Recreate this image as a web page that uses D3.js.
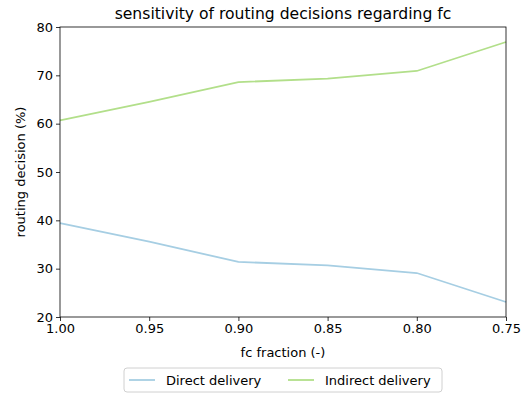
<!DOCTYPE html>
<meta charset="utf-8">
<script src="https://d3js.org/d3.v7.min.js"></script>
<style>
  body { margin: 0; background: white; }
  text { font-family: "DejaVu Sans", sans-serif; }
</style>
<div id="chart"></div>
<script>
const fractions = [1.00, 0.95, 0.90, 0.85, 0.80, 0.75];
const direct = [39.4, 35.6, 31.4, 30.7, 29.1, 23.1];
const indirect = [60.7, 64.5, 68.6, 69.3, 70.9, 76.9];
const seriesNames = ["Direct delivery", "Indirect delivery"];
const colors = ["#a6cee3", "#b2df8a"];
const yTicks = [20, 30, 40, 50, 60, 70, 80];

const width = 526, height = 394;
const margin = {left: 60, right: 20, top: 27, bottom: 77};

const svg = d3.select("#chart").append("svg")
    .attr("width", width)
    .attr("height", height);

const x = d3.scaleLinear().domain([1.00, 0.75]).range([margin.left, width - margin.right]);
const y = d3.scaleLinear().domain([20, 80]).range([height - margin.bottom, margin.top]);

// lines
const line = d3.line().x((d, i) => x(fractions[i])).y(d => y(d));
[direct, indirect].forEach((vals, i) => {
  svg.append("path")
    .datum(vals)
    .attr("d", line)
    .attr("fill", "none")
    .attr("stroke", colors[i])
    .attr("stroke-width", 1.8);
});

// axes
const xAxis = svg.append("g")
    .attr("transform", `translate(0,${height - margin.bottom})`)
    .call(d3.axisBottom(x).tickValues(fractions).tickFormat(d3.format(".2f")).tickSize(4).tickPadding(3));
const yAxis = svg.append("g")
    .attr("transform", `translate(${margin.left},0)`)
    .call(d3.axisLeft(y).tickValues(yTicks).tickSize(4).tickPadding(3));
[xAxis, yAxis].forEach(a => {
  a.select(".domain").remove();
  a.selectAll("text").style("font-size", "13px").attr("fill", "#000");
  a.selectAll("line").attr("stroke", "#000").attr("stroke-width", 0.8);
});

// frame
svg.append("rect")
  .attr("x", margin.left).attr("y", margin.top)
  .attr("width", width - margin.left - margin.right)
  .attr("height", height - margin.top - margin.bottom)
  .attr("fill", "none").attr("stroke", "#000").attr("stroke-width", 0.8);

// title & labels
svg.append("text")
  .attr("x", (margin.left + width - margin.right) / 2).attr("y", 19)
  .attr("text-anchor", "middle").style("font-size", "15.6px")
  .text("sensitivity of routing decisions regarding fc");
svg.append("text")
  .attr("x", (margin.left + width - margin.right) / 2).attr("y", 357)
  .attr("text-anchor", "middle").style("font-size", "13px")
  .text("fc fraction (-)");
svg.append("text")
  .attr("transform", `translate(25,${(margin.top + height - margin.bottom) / 2}) rotate(-90)`)
  .attr("text-anchor", "middle").style("font-size", "13px")
  .text("routing decision (%)");

// legend
const lg = svg.append("g");
lg.append("rect")
  .attr("x", 124).attr("y", 368).attr("width", 318).attr("height", 24)
  .attr("rx", 3).attr("fill", "white").attr("stroke", "#d0d0d0").attr("stroke-width", 1);
const legendX = [129, 288];
seriesNames.forEach((name, i) => {
  lg.append("line")
    .attr("x1", legendX[i]).attr("x2", legendX[i] + 26)
    .attr("y1", 380).attr("y2", 380)
    .attr("stroke", colors[i]).attr("stroke-width", 1.8);
  lg.append("text")
    .attr("x", legendX[i] + 37).attr("y", 385)
    .style("font-size", "13px")
    .text(name);
});
</script>
